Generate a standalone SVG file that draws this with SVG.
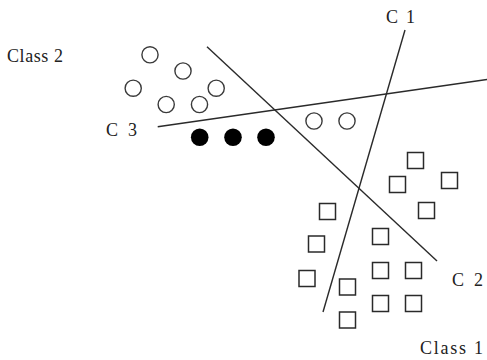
<svg xmlns="http://www.w3.org/2000/svg" width="487" height="360" viewBox="0 0 487 360">
<style>
.lbl{font-family:"Liberation Serif","Times New Roman",serif;font-size:18px;fill:#222}
.ln{stroke:#2a2a2a;stroke-width:1.4;fill:none}
.oc{fill:none;stroke:#3a3a3a;stroke-width:1.4}
.fc{fill:#000}
.sq{fill:none;stroke:#2a2a2a;stroke-width:1.5}
</style>
<rect width="487" height="360" fill="#fff"/>
<g id="connectors">
<line id="c1-line" class="ln" x1="405" y1="30" x2="323" y2="312"/>
<line id="c2-line" class="ln" x1="207" y1="46.7" x2="437" y2="261"/>
<line id="c3-line" class="ln" x1="157.7" y1="126.7" x2="487" y2="79.5"/>
</g>
<g id="labels">
<text id="class2" class="lbl" x="7" y="62" textLength="56" lengthAdjust="spacing">Class 2</text>
<text id="c3" class="lbl" x="106" y="136" textLength="31" lengthAdjust="spacing">C 3</text>
<text id="c1" class="lbl" x="386" y="23" textLength="29" lengthAdjust="spacing">C 1</text>
<text id="c2" class="lbl" x="452" y="286" textLength="31" lengthAdjust="spacing">C 2</text>
<text id="class1" class="lbl" x="420" y="354" textLength="63" lengthAdjust="spacing">Class 1</text>
</g>
<g id="class2-points">
<circle class="oc" cx="150" cy="54.8" r="8.1"/>
<circle class="oc" cx="183" cy="71" r="8.1"/>
<circle class="oc" cx="133.2" cy="88.2" r="8.1"/>
<circle class="oc" cx="216.2" cy="88.2" r="8.1"/>
<circle class="oc" cx="166.2" cy="104.5" r="8.1"/>
<circle class="oc" cx="199.5" cy="104.5" r="8.1"/>
<circle class="oc" cx="314" cy="121" r="8.1"/>
<circle class="oc" cx="347" cy="121" r="8.1"/>
</g>
<g id="filled-points">
<circle class="fc" cx="199.7" cy="137.2" r="8.8"/>
<circle class="fc" cx="233" cy="137.2" r="8.8"/>
<circle class="fc" cx="266" cy="137.2" r="8.8"/>
</g>
<g id="class1-points">
<rect class="sq" x="407.5" y="152.5" width="16" height="16"/>
<rect class="sq" x="389.5" y="176.5" width="16" height="16"/>
<rect class="sq" x="441.5" y="172.5" width="16" height="16"/>
<rect class="sq" x="418.5" y="202.5" width="16" height="16"/>
<rect class="sq" x="319.5" y="203.5" width="16" height="16"/>
<rect class="sq" x="372.5" y="228.5" width="16" height="16"/>
<rect class="sq" x="308.5" y="236" width="16" height="16"/>
<rect class="sq" x="299" y="270.5" width="16" height="16"/>
<rect class="sq" x="372.5" y="262.5" width="16" height="16"/>
<rect class="sq" x="405.5" y="262.5" width="16" height="16"/>
<rect class="sq" x="339.5" y="279" width="16" height="16"/>
<rect class="sq" x="372.5" y="295.5" width="16" height="16"/>
<rect class="sq" x="405.5" y="295.5" width="16" height="16"/>
<rect class="sq" x="339.5" y="312" width="16" height="16"/>
</g>
</svg>
